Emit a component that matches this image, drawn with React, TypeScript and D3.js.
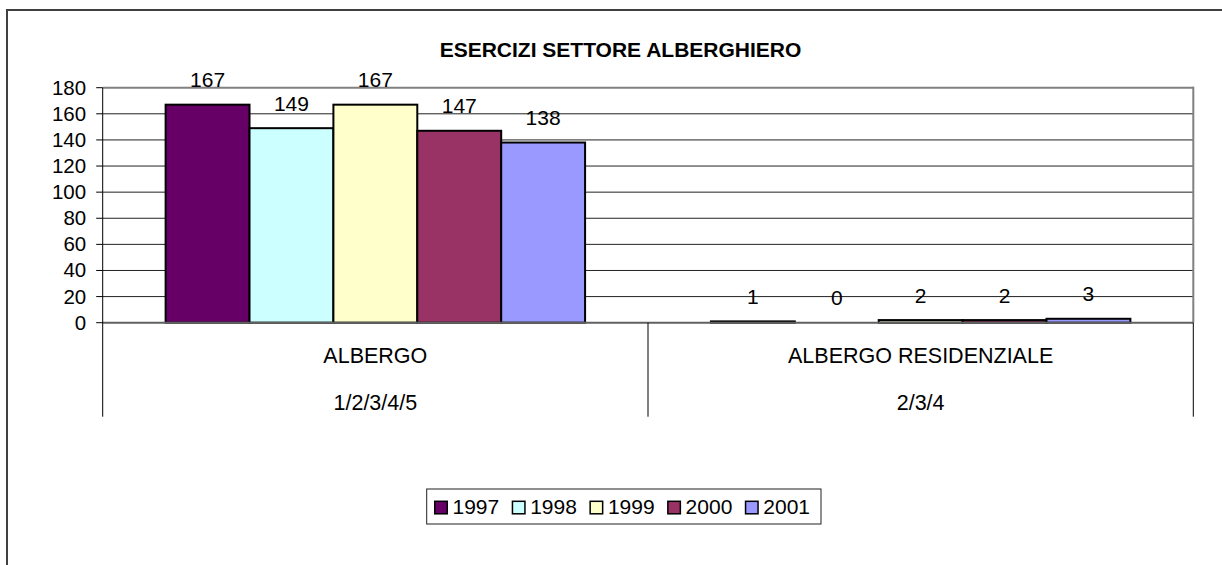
import React from "react";
import * as d3 from "d3";

const title = "ESERCIZI SETTORE ALBERGHIERO";
const categories = ["ALBERGO", "ALBERGO RESIDENZIALE"];
const subLabels = ["1/2/3/4/5", "2/3/4"];
const years = ["1997", "1998", "1999", "2000", "2001"];
const albergo = [167, 149, 167, 147, 138];
const residenziale = [1, 0, 2, 2, 3];
const yTicks = [0, 20, 40, 60, 80, 100, 120, 140, 160, 180];
const colors = ["#660066", "#CCFFFF", "#FFFFCC", "#993366", "#9999FF"];

const seriesByCategory = [albergo, residenziale];

const W = 1222;
const H = 565;
const plotL = 102.7;
const plotR = 1193.3;
const plotT = 87.7;
const plotB = 322.7;
const tableB = 416.7;
const FONT = "Arial, 'Liberation Sans', sans-serif";

export default function App() {
  const x0 = d3.scaleBand<string>().domain(categories).range([plotL, plotR]).paddingInner(0).paddingOuter(0);
  const x1 = d3
    .scaleBand<string>()
    .domain(years)
    .range([0, x0.bandwidth()])
    .paddingInner(0)
    .paddingOuter(0.75);
  const y = d3.scaleLinear().domain([0, 180]).range([plotB, plotT]);

  // legend layout
  const legL = 426.7;
  const legR = 821;
  const legT = 489;
  const legB = 524;
  const legItem = d3.scaleBand<string>().domain(years).range([434, 434 + 77.7 * 5]).paddingInner(0);

  return (
    <svg
      width={W}
      height={H}
      style={{ position: "absolute", left: 0, top: 0, background: "#fff" }}
      fontFamily={FONT}
    >
      <rect x={0} y={0} width={W} height={H} fill="#fff" />
      {/* chart border */}
      <rect x={7} y={10} width={1240} height={620} fill="none" stroke="#404040" strokeWidth={2} />

      {/* title */}
      <text x={620.5} y={57.3} textAnchor="middle" fontWeight="bold" fontSize={21} fill="#000">
        {title}
      </text>

      {/* gridlines */}
      {yTicks.slice(1).map((t) => (
        <line key={"g" + t} x1={plotL} x2={plotR} y1={y(t)} y2={y(t)} stroke={t === 180 ? "#808080" : "#222"} strokeWidth={t === 180 ? 2 : 1} />
      ))}
      {/* right border of plot */}
      <line x1={plotR} x2={plotR} y1={plotT - 1} y2={plotB} stroke="#808080" strokeWidth={2} />

      {/* bars */}
      {categories.map((c, ci) =>
        years.map((yr, si) => {
          const v = seriesByCategory[ci][si];
          const bx = (x0(c) as number) + (x1(yr) as number);
          const bw = x1.bandwidth();
          return (
            <g key={c + yr}>
              {v > 0 && (
                <rect x={bx} y={y(v)} width={bw} height={y(0) - y(v)} fill={colors[si]} stroke="#000" strokeWidth={2} />
              )}
              <text x={bx + bw / 2} y={y(v) - 17.5} textAnchor="middle" fontSize={21} fill="#000">
                {v}
              </text>
            </g>
          );
        })
      )}

      {/* zero line */}
      <line x1={plotL} x2={plotR} y1={plotB} y2={plotB} stroke="#606060" strokeWidth={2} />

      {/* y axis */}
      <line x1={plotL} x2={plotL} y1={plotT} y2={tableB} stroke="#000" strokeWidth={1} />
      {yTicks.map((t) => (
        <g key={"t" + t}>
          <line x1={plotL - 6.5} x2={plotL} y1={y(t)} y2={y(t)} stroke="#000" strokeWidth={1} />
          <text x={plotL - 16.5} y={y(t) + 7} textAnchor="end" fontSize={20.5} fill="#000">
            {t}
          </text>
        </g>
      ))}

      {/* category table separators */}
      {categories.map((c, ci) => (
        <line
          key={"sep" + c}
          x1={(x0(c) as number) + x0.bandwidth()}
          x2={(x0(c) as number) + x0.bandwidth()}
          y1={plotB}
          y2={tableB}
          stroke="#000"
          strokeWidth={1}
        />
      ))}
      {categories.map((c, ci) => (
        <g key={"cl" + c}>
          <text x={(x0(c) as number) + x0.bandwidth() / 2} y={363.3} textAnchor="middle" fontSize={21.5} fill="#000">
            {c}
          </text>
          <text x={(x0(c) as number) + x0.bandwidth() / 2} y={410} textAnchor="middle" fontSize={21.5} fill="#000">
            {subLabels[ci]}
          </text>
        </g>
      ))}

      {/* legend */}
      <rect x={legL} y={legT} width={legR - legL} height={legB - legT} fill="#fff" stroke="#202020" strokeWidth={1} />
      {years.map((yr, i) => {
        const lx = legItem(yr) as number;
        return (
          <g key={"lg" + yr}>
            <rect x={lx + 0.75} y={501.3} width={12.5} height={12.5} fill={colors[i]} stroke="#000" strokeWidth={1.5} />
            <text x={lx + 18.5} y={514.3} fontSize={21} fill="#000">
              {yr}
            </text>
          </g>
        );
      })}
    </svg>
  );
}
